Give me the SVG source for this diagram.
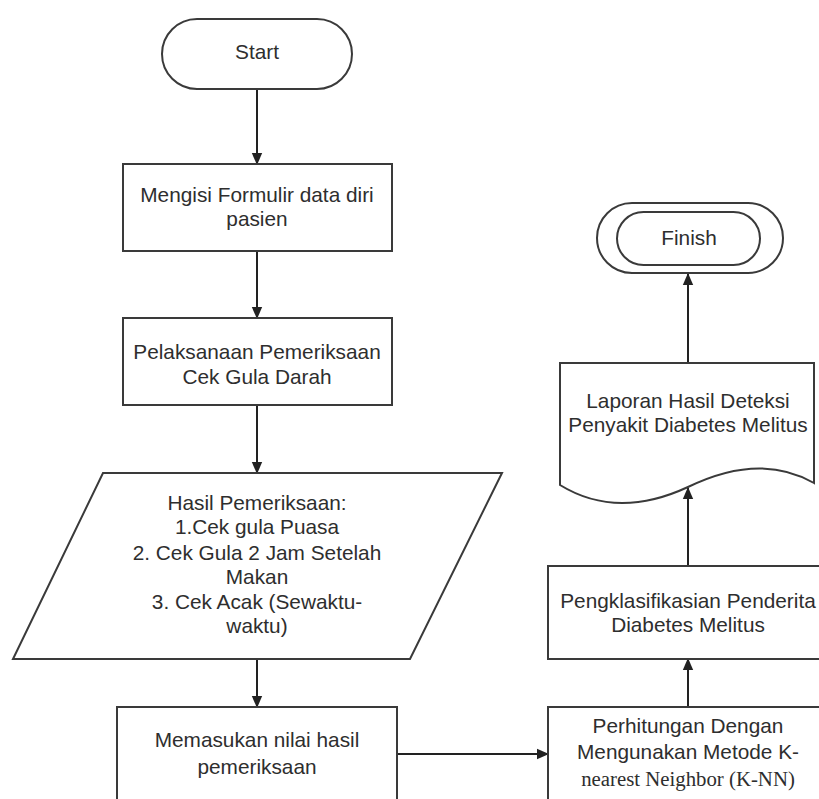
<svg xmlns="http://www.w3.org/2000/svg" width="819" height="799" viewBox="0 0 819 799">
  <defs>
    <marker id="arrow" markerWidth="12" markerHeight="12" refX="11" refY="6" orient="auto" markerUnits="userSpaceOnUse">
      <path d="M0,0.8 L12,6 L0,11.2 Z" fill="#222"/>
    </marker>
    <style>
      .shape { fill: #ffffff; stroke: #3a3a3a; stroke-width: 2; }
      .label { font-family: "Liberation Sans", Arial, sans-serif; font-size: 20.8px; fill: #2e2e2e; text-anchor: middle; }
      .serif { font-family: "Liberation Serif", "Times New Roman", serif; }
      .conn { fill: none; stroke: #222; stroke-width: 2; marker-end: url(#arrow); }
    </style>
  </defs>
  <rect width="819" height="799" fill="#ffffff"/>

  <g id="connectors">
    <line class="conn" x1="257" y1="89" x2="257" y2="164"/>
    <line class="conn" x1="257" y1="251" x2="257" y2="318"/>
    <line class="conn" x1="257" y1="405" x2="257" y2="473"/>
    <line class="conn" x1="257" y1="659" x2="257" y2="707"/>
    <line class="conn" x1="397" y1="754" x2="548" y2="754"/>
    <line class="conn" x1="688" y1="707" x2="688" y2="659"/>
    <line class="conn" x1="688" y1="566" x2="688" y2="488"/>
    <line class="conn" x1="688" y1="363" x2="688" y2="274"/>
  </g>

  <g id="start">
    <rect class="shape" x="162" y="19" width="190" height="70" rx="35" ry="35"/>
    <text class="label" x="257" y="59">Start</text>
  </g>

  <g id="isi-formulir">
    <rect class="shape" x="123" y="164" width="269" height="87"/>
    <text class="label" x="257" y="202">Mengisi Formulir data diri</text>
    <text class="label" x="257" y="226">pasien</text>
  </g>

  <g id="pemeriksaan">
    <rect class="shape" x="123" y="318" width="269" height="87"/>
    <text class="label" x="257" y="359">Pelaksanaan Pemeriksaan</text>
    <text class="label" x="257" y="384">Cek Gula Darah</text>
  </g>

  <g id="hasil-pemeriksaan">
    <polygon class="shape" points="103,473 502,473 410,659 13,659"/>
    <text class="label" x="257" y="510">Hasil Pemeriksaan:</text>
    <text class="label" x="257" y="534">1.Cek gula Puasa</text>
    <text class="label" x="257" y="560">2. Cek Gula 2 Jam Setelah</text>
    <text class="label" x="257" y="584">Makan</text>
    <text class="label" x="257" y="609">3. Cek Acak (Sewaktu-</text>
    <text class="label" x="257" y="633">waktu)</text>
  </g>

  <g id="input-nilai">
    <rect class="shape" x="117" y="707" width="280" height="110"/>
    <text class="label" x="257" y="747">Memasukan nilai hasil</text>
    <text class="label" x="257" y="774">pemeriksaan</text>
  </g>

  <g id="perhitungan-knn">
    <rect class="shape" x="548" y="707" width="290" height="110"/>
    <text class="label" x="688" y="733">Perhitungan Dengan</text>
    <text class="label" x="688" y="759">Mengunakan Metode K-</text>
    <text class="label serif" x="688" y="786">nearest Neighbor (K-NN)</text>
  </g>

  <g id="klasifikasi">
    <rect class="shape" x="548" y="566" width="290" height="93"/>
    <text class="label" x="688" y="608">Pengklasifikasian Penderita</text>
    <text class="label" x="688" y="632">Diabetes Melitus</text>
  </g>

  <g id="laporan">
    <path class="shape" d="M560,363 L814,363 L814,483 Q760,452 688,487 Q617,520 560,485 Z"/>
    <text class="label" x="688" y="408">Laporan Hasil Deteksi</text>
    <text class="label" x="688" y="432">Penyakit Diabetes Melitus</text>
  </g>

  <g id="finish">
    <rect class="shape" x="597" y="203" width="186" height="70" rx="35" ry="35"/>
    <rect class="shape" x="617" y="212" width="143" height="53" rx="26.5" ry="26.5"/>
    <text class="label" x="689" y="245">Finish</text>
  </g>
</svg>
